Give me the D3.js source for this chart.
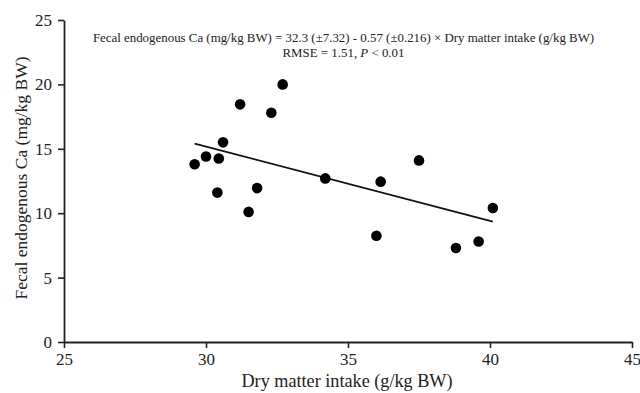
<!DOCTYPE html>
<html>
<head>
<meta charset="utf-8">
<script src="https://cdn.jsdelivr.net/npm/d3@7"></script>
<style>
  body { margin: 0; background: #fff; }
  svg { display: block; }
  text { font-family: "Liberation Serif", "DejaVu Serif", serif; fill: #222; }
</style>
</head>
<body>
<div id="chart"></div>
<script>
// dry matter intake (g/kg BW) vs fecal endogenous Ca (mg/kg BW)
const intake = [29.6, 30.0, 30.45, 30.6, 30.4, 31.2, 31.5, 31.8, 32.3, 32.7, 34.2, 36.0, 36.15, 37.5, 38.8, 39.6, 40.1];
const fecalCa = [13.8, 14.4, 14.25, 15.5, 11.6, 18.45, 10.1, 11.95, 17.8, 20.0, 12.7, 8.25, 12.45, 14.1, 7.3, 7.8, 10.4];

// fitted line end points
const fitX = [29.6, 40.1];
const fitY = [15.4, 9.35];

const xTicks = [25, 30, 35, 40, 45];
const yTicks = [0, 5, 10, 15, 20, 25];

const width = 640, height = 393;
const margin = { top: 20, right: 8, bottom: 51, left: 64 };

const svg = d3.select("#chart").append("svg")
  .attr("width", width)
  .attr("height", height);

const x = d3.scaleLinear().domain([25, 45]).range([margin.left, 632]);
const y = d3.scaleLinear().domain([0, 25]).range([342, margin.top]);

// axes
const xAxis = svg.append("g")
  .attr("transform", `translate(0,${y(0)})`)
  .call(d3.axisBottom(x).tickValues(xTicks).tickSize(6).tickPadding(5).tickSizeOuter(0));

const yAxis = svg.append("g")
  .attr("transform", `translate(${x(25)},0)`)
  .call(d3.axisLeft(y).tickValues(yTicks).tickSize(6).tickPadding(6).tickSizeOuter(0));

[xAxis, yAxis].forEach(g => {
  g.select(".domain").attr("stroke", "#222").attr("stroke-width", 1.8);
  g.selectAll(".tick line").attr("stroke", "#222").attr("stroke-width", 1.6);
  g.selectAll(".tick text")
    .style("font-family", "'Liberation Serif', serif")
    .style("font-size", "17px")
    .attr("fill", "#222");
});

// axis labels
svg.append("text")
  .attr("x", 347)
  .attr("y", 387)
  .attr("text-anchor", "middle")
  .style("font-size", "18.2px")
  .text("Dry matter intake (g/kg BW)");

svg.append("text")
  .attr("transform", `translate(27,${178}) rotate(-90)`)
  .attr("text-anchor", "middle")
  .style("font-size", "17.5px")
  .text("Fecal endogenous Ca (mg/kg BW)");

// equation
svg.append("text")
  .attr("x", 343.5)
  .attr("y", 42)
  .attr("text-anchor", "middle")
  .style("font-size", "12.9px")
  .text("Fecal endogenous Ca (mg/kg BW) = 32.3 (±7.32) - 0.57 (±0.216) × Dry matter intake (g/kg BW)");

const stat = svg.append("text")
  .attr("x", 343.5)
  .attr("y", 57)
  .attr("text-anchor", "middle")
  .style("font-size", "12.9px");
stat.append("tspan").text("RMSE = 1.51, ");
stat.append("tspan").style("font-style", "italic").text("P");
stat.append("tspan").text(" < 0.01");

// regression line
svg.append("path")
  .datum(d3.zip(fitX, fitY))
  .attr("fill", "none")
  .attr("stroke", "#111")
  .attr("stroke-width", 1.8)
  .attr("d", d3.line().x(d => x(d[0])).y(d => y(d[1])));

// points
svg.append("g")
  .selectAll("circle")
  .data(d3.zip(intake, fecalCa))
  .join("circle")
  .attr("cx", d => x(d[0]))
  .attr("cy", d => y(d[1]))
  .attr("r", 5.3)
  .attr("fill", "#000");
</script>
</body>
</html>
